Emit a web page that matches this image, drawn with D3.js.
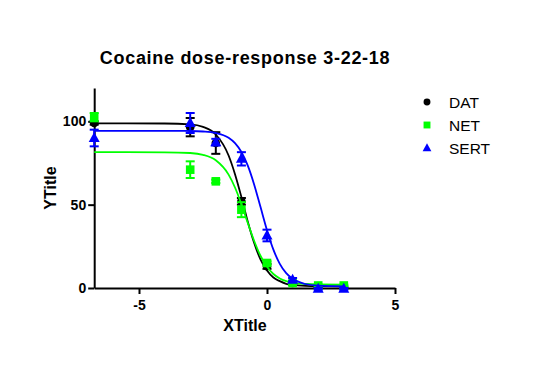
<!DOCTYPE html>
<html>
<head>
<meta charset="UTF-8">
<title>Cocaine dose-response 3-22-18</title>
<script src="https://cdn.jsdelivr.net/npm/d3@7"></script>
<style>
  body { margin: 0; background: #fff; }
  svg { font-family: "Liberation Sans", Arial, sans-serif; }
</style>
</head>
<body>
<div id="chart"></div>
<script>
// log dose (x) for the measured points
var doseX = [-6.75, -3, -2, -1, 0, 1, 2, 3];

// mean response and error for each transporter
var datMean  = [99, 96.5, 87, 52, 13, 3, 0.5, 0.3];
var datErr   = [1, 5.5, 6.5, 2, 1.5, 1, 0.5, 0.5];
var netMean  = [102.5, 71, 64, 47, 15, 3, 1.5, 1.5];
var netErr   = [2.5, 5, 1, 4.5, 1, 1, 0.5, 0.5];
var sertMean = [90, 99, 87.5, 77.5, 31.5, 5, -0.5, -0.5];
var sertErr  = [5, 6, 2, 4, 3.5, 1, 0.5, 0.5];

// fitted curves
var fitX    = [-6.75, -4, -3, -2.5, -2, -1.5, -1.25, -1, -0.75, -0.5, -0.25, 0, 0.25, 0.5, 0.75, 1, 1.5, 2, 3];
var datFit  = [98.8, 98.7, 98.2, 96.7, 92.1, 79.5, 68.3, 54.6, 39.8, 27.0, 17.0, 10.5, 6.3, 4.1, 2.5, 1.9, 1.3, 1.1, 1.0];
var netFit  = [81.5, 81.4, 81.0, 79.9, 76.6, 68.0, 60.3, 50.3, 39.0, 28.2, 19.2, 12.7, 8.4, 5.7, 4.1, 3.2, 2.4, 2.1, 2.0];
var sertFit = [94.3, 94.3, 94.2, 93.9, 93.0, 90.1, 86.9, 81.6, 73.4, 62.0, 48.4, 34.7, 23.0, 14.5, 8.9, 5.5, 2.4, 1.4, 1.0];

var xTicks = [-5, 0, 5];
var yTicks = [0, 50, 100];

var series = [
  {name: "DAT",  color: "#000000", shape: "circle",   mean: datMean,  err: datErr,  fit: datFit},
  {name: "NET",  color: "#00ff00", shape: "square",   mean: netMean,  err: netErr,  fit: netFit},
  {name: "SERT", color: "#0000ff", shape: "triangle", mean: sertMean, err: sertErr, fit: sertFit}
];

var W = 536, H = 384;
var svg = d3.select("#chart").append("svg").attr("width", W).attr("height", H);

var x = d3.scaleLinear().domain([-6.75, 5]).range([94.2, 395]);
var y = d3.scaleLinear().domain([0, 120]).range([288, 88]);

// title
svg.append("text")
  .attr("x", 245).attr("y", 64)
  .attr("text-anchor", "middle")
  .style("font-size", "18px").style("font-weight", "bold")
  .style("letter-spacing", "0.7px")
  .text("Cocaine dose-response 3-22-18");

// axes (plain hyphen for negatives, like the original)
var fmt = function(d) { return String(d); };
var xAxis = svg.append("g").attr("transform", "translate(0,288)")
  .call(d3.axisBottom(x).tickValues(xTicks).tickFormat(fmt).tickSize(6).tickSizeOuter(0).tickPadding(6));
var yAxis = svg.append("g").attr("transform", "translate(94.2,0)")
  .call(d3.axisLeft(y).tickValues(yTicks).tickFormat(fmt).tickSize(6).tickSizeOuter(0).tickPadding(2));
[xAxis, yAxis].forEach(function(a) {
  a.select(".domain").attr("stroke-width", 2);
  a.selectAll(".tick line").attr("stroke-width", 2);
  a.selectAll(".tick text").style("font-size", "14px").style("font-weight", "bold")
    .attr("fill", "#000").style("font-family", "'Liberation Sans', Arial, sans-serif");
});

// axis titles
svg.append("text")
  .attr("x", 245).attr("y", 331)
  .attr("text-anchor", "middle")
  .style("font-size", "16px").style("font-weight", "bold")
  .text("XTitle");
svg.append("text")
  .attr("transform", "translate(56,188) rotate(-90)")
  .attr("text-anchor", "middle")
  .style("font-size", "16px").style("font-weight", "bold")
  .text("YTitle");

function marker(g, shape, color, s) {
  if (shape === "circle") {
    g.append("circle").attr("r", 4.3 * s).attr("fill", color);
  } else if (shape === "square") {
    g.append("rect").attr("x", -4.3 * s).attr("y", -4.3 * s)
      .attr("width", 8.6 * s).attr("height", 8.6 * s).attr("fill", color);
  } else {
    g.append("path").attr("fill", color)
      .attr("d", "M0," + (-6 * s) + "L" + (5.5 * s) + "," + (4 * s) + "L" + (-5.5 * s) + "," + (4 * s) + "Z");
  }
}

var line = d3.line()
  .x(function(d) { return x(d[0]); })
  .y(function(d) { return y(d[1]); })
  .curve(d3.curveMonotoneX);

series.forEach(function(s) {
  var g = svg.append("g");
  g.append("path")
    .attr("d", line(fitX.map(function(v, i) { return [v, s.fit[i]]; })))
    .attr("fill", "none").attr("stroke", s.color).attr("stroke-width", 1.8);

  doseX.forEach(function(xv, i) {
    var m = s.mean[i], e = s.err[i];
    var cx = x(xv);
    var eb = g.append("g").attr("stroke", s.color).attr("stroke-width", 2);
    eb.append("line").attr("x1", cx).attr("x2", cx).attr("y1", y(m + e)).attr("y2", y(m - e));
    eb.append("line").attr("x1", cx - 4.5).attr("x2", cx + 4.5).attr("y1", y(m + e)).attr("y2", y(m + e));
    eb.append("line").attr("x1", cx - 4.5).attr("x2", cx + 4.5).attr("y1", y(m - e)).attr("y2", y(m - e));
    var mg = g.append("g").attr("transform", "translate(" + cx + "," + y(m) + ")");
    marker(mg, s.shape, s.color, 1);
  });
});

// legend
series.forEach(function(s, i) {
  var ly = 102 + i * 23;
  var mg = svg.append("g").attr("transform", "translate(427," + ly + ")");
  marker(mg, s.shape, s.color, 0.8);
  svg.append("text")
    .attr("x", 449).attr("y", ly + 5.5)
    .style("font-size", "15.5px")
    .text(s.name);
});
</script>
</body>
</html>
